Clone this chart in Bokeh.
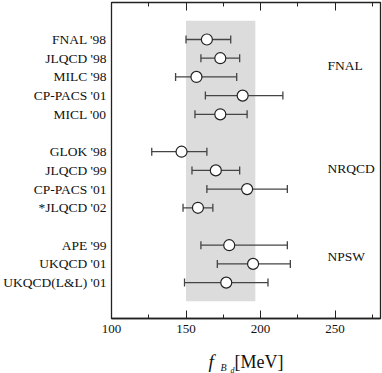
from bokeh.plotting import figure
from bokeh.layouts import column
from bokeh.models import (Range1d, FixedTicker, Whisker, TeeHead, ColumnDataSource,
                          LinearAxis, BoxAnnotation, Label)
from bokeh.core.properties import value
from bokeh.embed import file_html
from bokeh.resources import INLINE

# ---- data -------------------------------------------------------------
labels = ["FNAL '98", "JLQCD '98", "MILC '98", "CP-PACS '01", "MICL '00",
          "GLOK '98", "JLQCD '99", "CP-PACS '01", "*JLQCD '02",
          "APE '99", "UKQCD '01", "UKQCD(L&L) '01"]
rows = [0, 1, 2, 3, 4, 6, 7, 8, 9, 11, 12, 13]
central = [164, 173, 157, 188, 173, 147, 170, 191, 158, 179, 195, 177]
low = [150, 160, 143, 163, 156, 127, 154, 164, 148, 160, 171, 149]
high = [180, 186, 184, 215, 191, 164, 186, 218, 168, 218, 220, 205]

group_names = ["FNAL", "NRQCD", "NPSW"]
group_rows = [1.4, 6.9, 11.6]
group_x = [245, 245, 245]

band_low, band_high = 150, 196.5
band_top, band_bottom = -1.0, 14.0

x_major = [100, 150, 200, 250]
x_minor = [125, 175, 225, 275]

title_parts = ["f", "B", "d", "[MeV]"]

FONT = "Liberation Serif"
INK = "#111111"

# ---- main figure ------------------------------------------------------
p = figure(width=382, height=340, output_backend="svg", toolbar_location=None,
           x_range=Range1d(100, 280.5), y_range=Range1d(14.92, -1.98),
           min_border_left=111, min_border_right=2, min_border_top=2,
           min_border_bottom=22, x_axis_location="below")
p.grid.visible = False
p.background_fill_color = "white"
p.border_fill_color = "white"
p.outline_line_color = "#222222"
p.outline_line_width = 1.3

p.add_layout(BoxAnnotation(left=band_low, right=band_high, top=band_top, bottom=band_bottom,
                           fill_color="#dcdcdc", fill_alpha=1.0, line_color=None, level="underlay"))

src = ColumnDataSource(dict(y=rows, c=central, lo=low, hi=high))

w = Whisker(source=src, base="y", lower="lo", upper="hi", dimension="width",
            line_color="#444444", line_width=1.3,
            lower_head=TeeHead(size=8, line_color="#444444", line_width=1.3),
            upper_head=TeeHead(size=8, line_color="#444444", line_width=1.3))
p.add_layout(w)

p.scatter(x="c", y="y", source=src, size=11, fill_color="white",
          line_color="#222222", line_width=1.2)

p.text(x=group_x, y=group_rows, text=group_names, text_font=value(FONT),
       text_font_size="13.5px", text_align="left", text_baseline="middle",
       text_color=INK)

xa = p.xaxis[0]
xa.ticker = FixedTicker(ticks=x_major, minor_ticks=x_minor)
xa.major_tick_in = 8
xa.major_tick_out = 0
xa.minor_tick_in = 4
xa.minor_tick_out = 0
xa.axis_line_color = "#222222"
xa.axis_line_width = 1.3
xa.major_tick_line_color = "#222222"
xa.minor_tick_line_color = "#222222"
xa.major_label_text_font = FONT
xa.major_label_text_font_size = "13px"
xa.major_label_text_color = INK
xa.major_label_standoff = 6

ta = LinearAxis(ticker=FixedTicker(ticks=x_major, minor_ticks=x_minor),
                major_tick_in=8, major_tick_out=0, minor_tick_in=4, minor_tick_out=0,
                major_label_overrides={t: "" for t in x_major},
                major_label_standoff=0,
                axis_line_color="#222222",
                major_tick_line_color="#222222", minor_tick_line_color="#222222")
p.add_layout(ta, "above")

ya = p.yaxis[0]
ya.ticker = FixedTicker(ticks=rows)
ya.major_label_overrides = {r: l for r, l in zip(rows, labels)}
ya.major_tick_line_color = None
ya.minor_tick_line_color = None
ya.major_tick_out = 0
ya.major_tick_in = 0
ya.axis_line_color = "#222222"
ya.major_label_text_font = FONT
ya.major_label_text_font_size = "13.5px"
ya.major_label_text_color = INK
ya.major_label_standoff = 5

# ---- axis title strip:  f_{B_d} [MeV]  (same x range as the main plot) --
p2 = figure(width=382, height=33, output_backend="svg", toolbar_location=None,
            x_range=p.x_range, y_range=Range1d(33, 0),
            x_axis_location=None, y_axis_location=None,
            min_border=0, min_border_left=111, min_border_right=2,
            min_border_top=0, min_border_bottom=0)
p2.grid.visible = False
p2.outline_line_color = None
p2.background_fill_color = "white"
p2.border_fill_color = "white"

p2.add_layout(Label(x=97, y=12, x_units="screen", y_units="screen", text=title_parts[0],
                    text_font=FONT, text_font_style="italic", text_font_size="19px",
                    text_baseline="alphabetic", text_color=INK))
p2.add_layout(Label(x=109, y=6, x_units="screen", y_units="screen", text=title_parts[1],
                    text_font=FONT, text_font_style="italic", text_font_size="10px",
                    text_baseline="alphabetic", text_color=INK))
p2.add_layout(Label(x=119, y=3.5, x_units="screen", y_units="screen", text=title_parts[2],
                    text_font=FONT, text_font_style="italic", text_font_size="8px",
                    text_baseline="alphabetic", text_color=INK))
p2.add_layout(Label(x=123, y=12, x_units="screen", y_units="screen", text=title_parts[3],
                    text_font=FONT, text_font_size="18px",
                    text_baseline="alphabetic", text_color=INK))

layout = column(p, p2, spacing=0)
open("out.html", "w").write(file_html(layout, INLINE))
